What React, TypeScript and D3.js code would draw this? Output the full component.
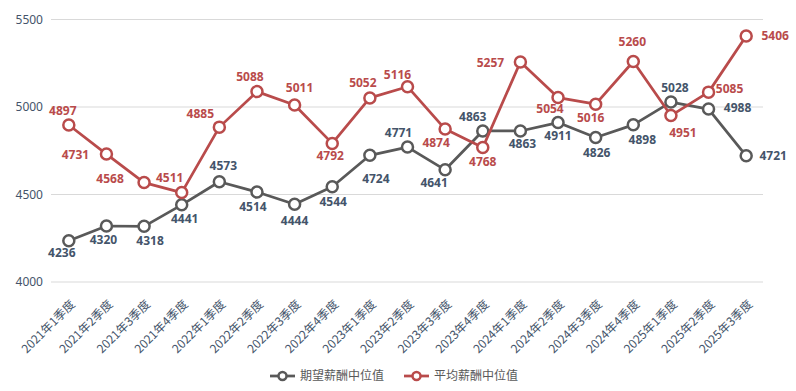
import React from 'react';
import * as d3 from 'd3';

const WIDTH = 796;
const HEIGHT = 391;

const quarters = [
  '2021年1季度', '2021年2季度', '2021年3季度', '2021年4季度',
  '2022年1季度', '2022年2季度', '2022年3季度', '2022年4季度',
  '2023年1季度', '2023年2季度', '2023年3季度', '2023年4季度',
  '2024年1季度', '2024年2季度', '2024年3季度', '2024年4季度',
  '2025年1季度', '2025年2季度', '2025年3季度',
];

const expectedMedian = [4236, 4320, 4318, 4441, 4573, 4514, 4444, 4544, 4724, 4771, 4641, 4863, 4863, 4911, 4826, 4898, 5028, 4988, 4721];
const averageMedian = [4897, 4731, 4568, 4511, 4885, 5088, 5011, 4792, 5052, 5116, 4874, 4768, 5257, 5054, 5016, 5260, 4951, 5085, 5406];

const yTicks = [4000, 4500, 5000, 5500];

const seriesNames = ['期望薪酬中位值', '平均薪酬中位值'];

// label nudges (dx, dy) relative to each point, to keep labels clear of lines
const expectedLabelShift = [
  [-7, 12], [-3, 14], [6, 14], [3, 14], [4, -16], [-4, 15], [0, 16], [1, 15], [6, 23], [-9, -14],
  [-11, 13], [-10, -14], [2, 13], [0, 13], [1, 15], [9, 15], [4, -14], [29, -1], [27, 0],
];
const averageLabelShift = [
  [-6, -14], [-31, 1], [-34, -4], [-12, -15], [-19, -13], [-7, -15], [5, -17], [-2, 12], [-7, -15], [-10, -12],
  [-9, 14], [0, 14], [-30, 1], [-8, 11], [-5, 14], [-1, -20], [12, 17], [21, -3], [29, 0],
];

const GRAY = '#595959';
const RED = '#b94b4b';
const GRAY_TEXT = '#44546a';
const AXIS_TEXT = '#44546a';
const LABEL_FONT = '"Noto Sans", "Noto Sans CJK SC", sans-serif';
const CJK_FONT = '"Noto Sans CJK SC", "Noto Sans", sans-serif';

export default function App() {
  const x = d3.scaleBand<string>().domain(quarters).range([50, 765]).padding(0);
  const y = d3.scaleLinear().domain([4000, 5500]).range([282, 19.5]);
  const cx = (i: number) => (x(quarters[i]) ?? 0) + x.bandwidth() / 2;

  const line = d3
    .line<number>()
    .x((_, i) => cx(i))
    .y((d) => y(d));

  const series = [
    { name: seriesNames[0], values: expectedMedian, color: GRAY, text: GRAY_TEXT, shift: expectedLabelShift },
    { name: seriesNames[1], values: averageMedian, color: RED, text: RED, shift: averageLabelShift },
  ];

  return (
    <svg
      width={WIDTH}
      height={HEIGHT}
      style={{ position: 'absolute', left: 0, top: 0, background: '#fff' }}
    >
      {/* grid + y labels */}
      {yTicks.map((t) => (
        <g key={t}>
          <line x1={51} x2={763} y1={y(t)} y2={y(t)} stroke="#d9d9d9" strokeWidth={1} />
          <text
            x={43}
            y={y(t)}
            dy="0.35em"
            textAnchor="end"
            fontFamily={LABEL_FONT}
            fontSize={12}
            fill={AXIS_TEXT}
          >
            {t}
          </text>
        </g>
      ))}

      {/* x labels */}
      {quarters.map((q, i) => (
        <text
          key={q}
          transform={`translate(${cx(i) + 7}, 305) rotate(-45)`}
          textAnchor="end"
          fontFamily={CJK_FONT}
          fontSize={12}
          fill={AXIS_TEXT}
        >
          {q}
        </text>
      ))}

      {/* lines + markers */}
      {series.map((s) => (
        <g key={s.name}>
          <path d={line(s.values) ?? ''} fill="none" stroke={s.color} strokeWidth={2.75} strokeLinejoin="round" />
          {s.values.map((v, i) => (
            <circle key={i} cx={cx(i)} cy={y(v)} r={5.5} fill="#fff" stroke={s.color} strokeWidth={2.5} />
          ))}
        </g>
      ))}

      {/* data labels */}
      {series.map((s) => (
        <g key={s.name + '-labels'}>
          {s.values.map((v, i) => (
            <text
              key={i}
              x={cx(i) + s.shift[i][0]}
              y={y(v) + s.shift[i][1]}
              dy="0.35em"
              textAnchor="middle"
              fontFamily={LABEL_FONT}
              fontWeight="bold"
              fontSize={12}
              fill={s.text}
            >
              {v}
            </text>
          ))}
        </g>
      ))}

      {/* legend */}
      {series.map((s, k) => {
        const lx = k === 0 ? 270 : 404;
        return (
          <g key={s.name + '-legend'} transform={`translate(${lx}, 376)`}>
            <line x1={0} x2={25} y1={0} y2={0} stroke={s.color} strokeWidth={2.75} />
            <circle cx={12.5} cy={0} r={4} fill="#fff" stroke={s.color} strokeWidth={2.5} />
            <text
              x={30}
              y={0}
              dy="0.35em"
              fontFamily={CJK_FONT}
              fontSize={12}
              fill={GRAY}
            >
              {s.name}
            </text>
          </g>
        );
      })}
    </svg>
  );
}
